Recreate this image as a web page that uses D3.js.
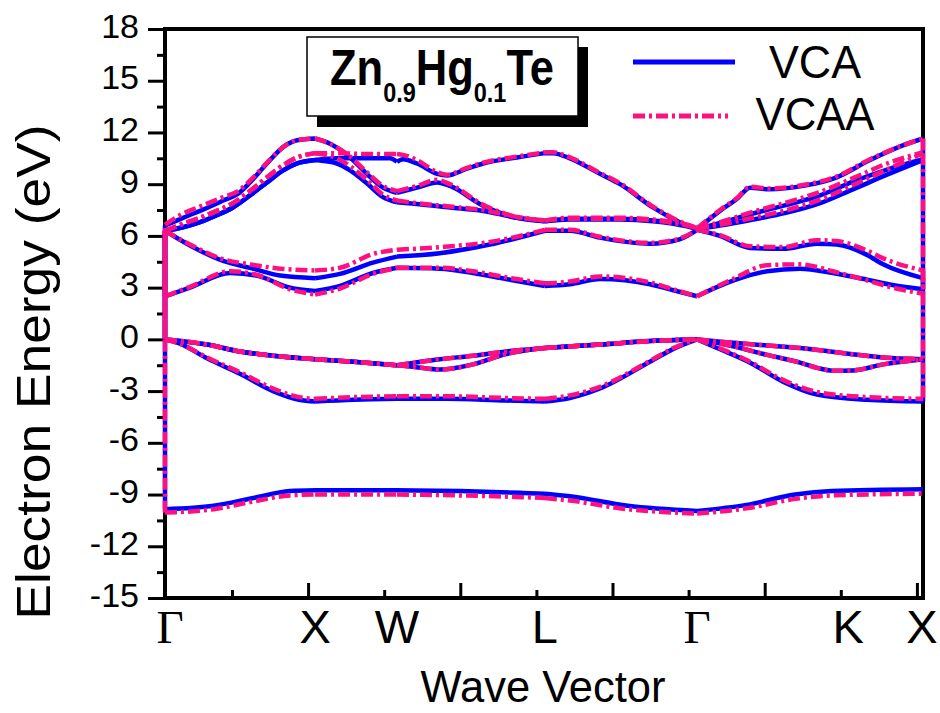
<!DOCTYPE html>
<html>
<head>
<meta charset="utf-8">
<script src="https://cdn.jsdelivr.net/npm/d3@7"></script>
<style>
  body { margin: 0; background: #fff; }
  svg { display: block; }
  text { font-family: "Liberation Sans", Arial, sans-serif; fill: #000; }
</style>
</head>
<body>
<svg id="chart" width="940" height="713"></svg>
<script>
// k-path: symmetry points and their labels
var kPoints = [0.03, 0.523, 0.792, 1.278, 1.778, 2.274, 2.52]
var kLabels = ["Γ", "X", "W", "L", "Γ", "K", "X"]
var yTicks = d3.range(-15, 19, 3)

// VCA bands  [k, E(eV)]
var vcaS = [[0.03,-9.85],[0.19,-9.65],[0.32,-9.2],[0.44,-8.8],[0.523,-8.75],[0.792,-8.75],[1.0,-8.8],[1.2,-8.9],[1.278,-8.95],[1.36,-9.1],[1.55,-9.65],[1.778,-9.95],[1.94,-9.6],[2.1,-9.0],[2.22,-8.8],[2.52,-8.7]]
var vcaV1 = [[0.03,0],[0.079,-0.25],[0.168,-1.1],[0.276,-2.0],[0.385,-3.0],[0.47,-3.5],[0.523,-3.6],[0.65,-3.5],[0.792,-3.45],[0.95,-3.45],[1.15,-3.55],[1.278,-3.6],[1.36,-3.4],[1.459,-2.85],[1.623,-1.3],[1.7,-0.55],[1.778,0],[1.843,-0.5],[1.952,-1.35],[2.06,-2.45],[2.172,-3.2],[2.336,-3.5],[2.52,-3.6]]
var vcaV2 = [[0.03,0],[0.168,-0.3],[0.276,-0.7],[0.385,-0.95],[0.523,-1.15],[0.65,-1.3],[0.792,-1.5],[0.85,-1.35],[0.933,-1.15],[1.042,-0.95],[1.15,-0.7],[1.278,-0.5],[1.459,-0.3],[1.623,-0.1],[1.778,0],[1.896,-0.2],[2.008,-0.35],[2.116,-0.5],[2.26,-0.8],[2.389,-1.05],[2.52,-1.15]]
var vcaV3 = [[0.03,0],[0.168,-0.3],[0.276,-0.7],[0.385,-0.95],[0.523,-1.15],[0.65,-1.3],[0.792,-1.5],[0.85,-1.6],[0.933,-1.75],[1.042,-1.45],[1.15,-0.85],[1.278,-0.5],[1.459,-0.3],[1.623,-0.1],[1.778,0],[1.896,-0.4],[2.008,-0.9],[2.116,-1.35],[2.172,-1.65],[2.224,-1.82],[2.29,-1.8],[2.389,-1.45],[2.52,-1.15]]
var vcaC1 = [[0.03,2.5],[0.112,3.0],[0.244,3.85],[0.33,3.7],[0.441,3.0],[0.523,2.8],[0.605,3.1],[0.713,3.85],[0.792,4.15],[0.933,4.1],[1.042,3.85],[1.15,3.5],[1.278,3.1],[1.36,3.2],[1.459,3.5],[1.623,3.2],[1.7,2.85],[1.778,2.5],[1.896,3.4],[2.008,3.95],[2.116,4.1],[2.224,3.85],[2.34,3.45],[2.42,3.15],[2.52,2.9]]
var vcaC2 = [[0.03,6.3],[0.112,5.45],[0.221,4.55],[0.309,4.15],[0.408,3.7],[0.523,3.55],[0.605,3.8],[0.713,4.45],[0.792,4.8],[0.933,5.0],[1.097,5.5],[1.278,6.3],[1.36,6.3],[1.459,5.9],[1.623,5.55],[1.72,5.8],[1.778,6.35],[1.853,6.0],[1.952,5.3],[2.06,5.25],[2.172,5.55],[2.237,5.5],[2.336,4.9],[2.389,4.35],[2.52,3.55]]
var vcaP = [[0.03,6.6],[0.089,7.05],[0.145,7.45],[0.221,8.05],[0.27,8.45],[0.309,9.1],[0.365,10.2],[0.418,11.15],[0.464,11.55],[0.523,11.65],[0.572,11.35],[0.638,10.55],[0.693,9.6],[0.746,8.8],[0.792,8.5],[0.858,8.8],[0.924,9.1],[0.966,8.9],[1.075,7.75],[1.186,7.05],[1.278,6.85],[1.36,7.0],[1.525,7.0],[1.633,6.9],[1.745,6.6],[1.778,6.4],[1.853,6.6],[1.962,6.95],[2.073,7.35],[2.182,7.9],[2.29,8.7],[2.402,9.55],[2.52,10.4]]
var vcaQ = [[0.03,6.3],[0.089,6.5],[0.145,6.8],[0.2,7.2],[0.253,7.65],[0.309,8.35],[0.365,9.1],[0.418,9.8],[0.464,10.2],[0.523,10.4],[0.595,10.5],[0.7,10.5],[0.769,10.5],[0.792,10.3],[0.812,10.45],[0.858,10.2],[0.924,9.6],[0.956,9.5],[1.022,9.9],[1.075,10.2],[1.186,10.55],[1.278,10.8],[1.305,10.8],[1.36,10.5],[1.459,9.6],[1.525,9.0],[1.633,7.65],[1.745,6.6],[1.778,6.4],[1.853,7.45],[1.909,8.15],[1.952,8.8],[2.017,8.7],[2.126,8.9],[2.237,9.4],[2.346,10.4],[2.454,11.25],[2.52,11.65]]
var vcaR = [[0.03,6.3],[0.089,6.5],[0.145,6.8],[0.2,7.2],[0.253,7.65],[0.309,8.35],[0.365,9.1],[0.418,9.8],[0.464,10.2],[0.523,10.4],[0.595,10.2],[0.638,9.8],[0.693,9.05],[0.746,8.25],[0.792,7.95],[0.858,7.85],[0.966,7.65],[1.075,7.45],[1.186,7.05],[1.278,6.85],[1.36,6.95],[1.525,6.95],[1.633,6.85],[1.745,6.55],[1.778,6.4],[1.853,6.75],[1.962,7.3],[2.073,7.8],[2.182,8.35],[2.29,9.15],[2.402,9.85],[2.52,10.45]]

// VCAA bands  [k, E(eV)]  (top valence bands coincide with VCA)
var vcaaS = [[0.03,-10.05],[0.19,-9.85],[0.32,-9.4],[0.44,-9.05],[0.523,-9.0],[0.792,-9.0],[1.0,-9.05],[1.2,-9.15],[1.278,-9.2],[1.36,-9.35],[1.55,-9.85],[1.778,-10.1],[1.94,-9.8],[2.1,-9.25],[2.22,-9.05],[2.52,-8.95]]
var vcaaV1 = [[0.03,0],[0.079,-0.25],[0.168,-1.05],[0.276,-1.9],[0.385,-2.85],[0.47,-3.35],[0.523,-3.45],[0.65,-3.35],[0.792,-3.3],[0.95,-3.3],[1.15,-3.4],[1.278,-3.45],[1.36,-3.25],[1.459,-2.75],[1.623,-1.25],[1.7,-0.5],[1.778,0],[1.843,-0.45],[1.952,-1.3],[2.06,-2.35],[2.172,-3.05],[2.336,-3.35],[2.52,-3.45]]
var vcaaV2 = vcaV2
var vcaaV3 = vcaV3
var vcaaC1 = [[0.03,2.5],[0.112,3.05],[0.244,3.95],[0.33,3.75],[0.441,2.9],[0.523,2.6],[0.605,2.95],[0.713,3.8],[0.792,4.15],[0.933,4.15],[1.042,3.95],[1.15,3.6],[1.278,3.25],[1.36,3.35],[1.459,3.65],[1.623,3.3],[1.7,2.9],[1.778,2.5],[1.896,3.5],[2.008,4.3],[2.116,4.35],[2.224,3.95],[2.34,3.4],[2.42,3.0],[2.52,2.65]]
var vcaaC2 = [[0.03,6.3],[0.112,5.5],[0.221,4.65],[0.309,4.35],[0.408,4.1],[0.523,4.0],[0.605,4.15],[0.713,4.95],[0.792,5.2],[0.933,5.35],[1.097,5.65],[1.278,6.35],[1.36,6.35],[1.459,5.95],[1.623,5.6],[1.72,5.85],[1.778,6.35],[1.853,6.05],[1.952,5.4],[2.06,5.35],[2.172,5.75],[2.237,5.7],[2.336,5.15],[2.389,4.7],[2.52,4.0]]
var vcaaP = [[0.03,6.65],[0.089,7.3],[0.145,7.7],[0.221,8.25],[0.27,8.6],[0.309,9.2],[0.365,10.25],[0.418,11.15],[0.464,11.55],[0.523,11.65],[0.572,11.35],[0.638,10.6],[0.693,9.7],[0.746,8.9],[0.792,8.6],[0.858,8.9],[0.924,9.25],[0.966,9.0],[1.075,7.8],[1.186,7.1],[1.278,6.9],[1.36,7.05],[1.525,7.05],[1.633,6.95],[1.745,6.65],[1.778,6.45],[1.853,6.65],[1.962,7.05],[2.073,7.5],[2.182,8.1],[2.29,8.95],[2.402,9.85],[2.52,10.8]]
var vcaaQ = [[0.03,6.3],[0.089,6.7],[0.145,7.05],[0.2,7.45],[0.253,7.9],[0.309,8.6],[0.365,9.4],[0.418,10.1],[0.464,10.55],[0.523,10.8],[0.595,10.8],[0.7,10.75],[0.792,10.75],[0.812,10.7],[0.858,10.4],[0.924,9.7],[0.956,9.55],[1.022,9.95],[1.075,10.25],[1.186,10.6],[1.278,10.85],[1.305,10.85],[1.36,10.55],[1.459,9.65],[1.525,9.05],[1.633,7.7],[1.745,6.65],[1.778,6.45],[1.853,7.5],[1.909,8.2],[1.952,8.85],[2.017,8.75],[2.126,8.95],[2.237,9.45],[2.346,10.45],[2.454,11.25],[2.52,11.65]]
var vcaaR = [[0.03,6.3],[0.089,6.7],[0.145,7.05],[0.2,7.45],[0.253,7.9],[0.309,8.6],[0.365,9.4],[0.418,10.1],[0.464,10.55],[0.523,10.8],[0.595,10.5],[0.638,10.05],[0.693,9.25],[0.746,8.4],[0.792,8.05],[0.858,7.9],[0.966,7.7],[1.075,7.5],[1.186,7.1],[1.278,6.9],[1.36,7.0],[1.525,7.0],[1.633,6.9],[1.745,6.6],[1.778,6.45],[1.853,6.8],[1.962,7.4],[2.073,7.95],[2.182,8.55],[2.29,9.35],[2.402,10.2],[2.52,10.85]]

// order in which bands were written out (zig-zag, gives the end connectors)
var bandOrder = ["s", "c2", "v1", "P", "c1", "Q", "R", "v2", "v3"]

var series = [
    { name: "VCA", color: "#0000ff", dash: null,
      bands: { s: vcaS, v1: vcaV1, v2: vcaV2, v3: vcaV3, c1: vcaC1, c2: vcaC2, P: vcaP, Q: vcaQ, R: vcaR } },
    { name: "VCAA", color: "#ff1080", dash: "12,4,3,4",
      bands: { s: vcaaS, v1: vcaaV1, v2: vcaaV2, v3: vcaaV3, c1: vcaaC1, c2: vcaaC2, P: vcaaP, Q: vcaaQ, R: vcaaR } }
]

// ------------------------------

var svg = d3.select("#chart")

var x = d3.scaleLinear()
    .domain([0.03, 2.52])
    .range([165, 923])

var y = d3.scaleLinear()
    .domain([-15, 18])
    .range([598, 29])

// frame (curves are drawn over it, as in the original)
svg.append("rect")
    .attr("x", x.range()[0])
    .attr("y", y.range()[1])
    .attr("width", x.range()[1] - x.range()[0])
    .attr("height", y.range()[0] - y.range()[1])
    .attr("fill", "none")
    .attr("stroke", "#000")
    .attr("stroke-width", 4)

// y axis, ticks outside
var yAxis = svg.append("g")
    .attr("transform", "translate(165,0)")
    .call(d3.axisLeft(y).tickValues(yTicks).tickSize(17).tickPadding(9)
        .tickFormat(function (d) { return String(d) }))
yAxis.select(".domain").remove()
yAxis.selectAll("line").attr("stroke-width", 3)
yAxis.selectAll("text")
    .attr("dy", "0.24em")
    .style("font-family", '"Liberation Sans", Arial, sans-serif')
    .style("font-size", "34px")

var yMinor = svg.append("g")
    .attr("transform", "translate(165,0)")
    .call(d3.axisLeft(y).tickValues(yTicks.slice(1).map(function (d) { return d - 1.5 }))
        .tickSize(8).tickFormat(""))
yMinor.select(".domain").remove()
yMinor.selectAll("line").attr("stroke-width", 3)

// x axis, ticks pointing inwards
var xMajor = svg.append("g")
    .attr("transform", "translate(0,598)")
    .call(d3.axisTop(x).tickValues([0.5, 1, 1.5, 2, 2.5]).tickSize(15).tickFormat(""))
xMajor.select(".domain").remove()
xMajor.selectAll("line").attr("stroke-width", 3)

var xMinor = svg.append("g")
    .attr("transform", "translate(0,598)")
    .call(d3.axisTop(x).tickValues([0.25, 0.75, 1.25, 1.75, 2.25]).tickSize(8).tickFormat(""))
xMinor.select(".domain").remove()
xMinor.selectAll("line").attr("stroke-width", 3)

// bands are kinked at the symmetry points, so each piece is smoothed on its own
var breaks = kPoints.slice(1, 5)

function pieces(band) {
    var out = [], cur = []
    band.forEach(function (p) {
        cur.push(p)
        if (breaks.indexOf(p[0]) >= 0) {
            out.push(cur)
            cur = [p]
        }
    })
    if (cur.length > 1) out.push(cur)
    return out
}

var line = d3.line()
    .x(function (d) { return x(d[0]) })
    .y(function (d) { return y(d[1]) })
    .curve(d3.curveMonotoneX)

var straight = d3.line()
    .x(function (d) { return x(d[0]) })
    .y(function (d) { return y(d[1]) })

var plot = svg.append("g")

series.forEach(function (s) {
    var g = plot.append("g")
        .attr("fill", "none")
        .attr("stroke", s.color)
        .attr("stroke-width", 4.5)
        .attr("stroke-dasharray", s.dash)

    bandOrder.forEach(function (name, i) {
        var band = s.bands[name]
        g.append("path")
            .attr("d", pieces(band).map(line).join(""))

        if (i > 0) {
            // odd: joined at the left end, even: at the right end
            var prev = s.bands[bandOrder[i - 1]]
            var a = i % 2 ? prev[0] : prev[prev.length - 1]
            var b = i % 2 ? band[0] : band[band.length - 1]
            g.append("path").attr("d", straight([a, b]))
        }
    })
})

// symmetry point labels
svg.append("g").selectAll("text")
    .data(kLabels)
    .join("text")
    .attr("x", function (d, i) { return x(kPoints[i]) })
    .attr("dx", function (d, i) { return i == 0 ? 5 : (i == kLabels.length - 1 ? -1 : 0) })
    .attr("y", 643)
    .attr("text-anchor", "middle")
    .style("font-size", "47px")
    .style("font-family", function (d) { return d == "Γ" ? '"Liberation Serif", serif' : null })
    .text(function (d) { return d })

// axis titles
svg.append("text")
    .attr("x", 543)
    .attr("y", 702)
    .attr("text-anchor", "middle")
    .attr("textLength", 245)
    .attr("lengthAdjust", "spacingAndGlyphs")
    .style("font-size", "45px")
    .text("Wave Vector")

svg.append("text")
    .attr("transform", "translate(50,372) rotate(-90)")
    .attr("text-anchor", "middle")
    .attr("textLength", 495)
    .attr("lengthAdjust", "spacingAndGlyphs")
    .style("font-size", "49px")
    .text("Electron Energy (eV)")

// title box with shadow
svg.append("rect")
    .attr("x", 317).attr("y", 47)
    .attr("width", 271).attr("height", 80)
    .attr("fill", "#000")
svg.append("rect")
    .attr("x", 307).attr("y", 37)
    .attr("width", 271).attr("height", 79)
    .attr("fill", "#fff")
    .attr("stroke", "#000")
    .attr("stroke-width", 1.5)

var title = svg.append("text")
    .attr("transform", "translate(330,85) scale(0.87,1)")
    .style("font-weight", "bold")
    .style("font-size", "50px")
title.append("tspan").text("Zn")
title.append("tspan").attr("dy", 17).style("font-size", "27px").text("0.9")
title.append("tspan").attr("dy", -17).text("Hg")
title.append("tspan").attr("dy", 17).style("font-size", "27px").text("0.1")
title.append("tspan").attr("dy", -17).text("Te")

// legend
var legend = svg.append("g")
series.forEach(function (s, i) {
    legend.append("line")
        .attr("x1", 633).attr("x2", i == 0 ? 735 : 728)
        .attr("y1", 62 + i * 54).attr("y2", 62 + i * 54)
        .attr("stroke", s.color)
        .attr("stroke-width", 5)
        .attr("stroke-dasharray", s.dash)
    legend.append("text")
        .attr("x", 815)
        .attr("y", 78 + i * 52)
        .attr("text-anchor", "middle")
        .attr("textLength", i == 0 ? 92 : 119)
        .attr("lengthAdjust", "spacingAndGlyphs")
        .style("font-size", "46px")
        .text(s.name)
})
</script>
</body>
</html>
